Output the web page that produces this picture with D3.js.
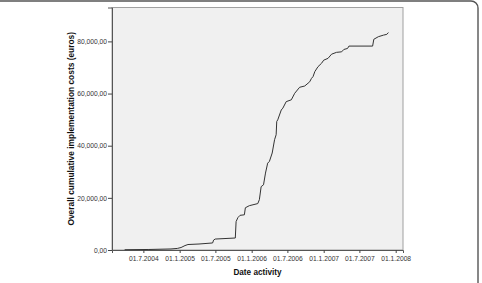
<!DOCTYPE html>
<html>
<head>
<meta charset="utf-8">
<script src="https://cdn.jsdelivr.net/npm/d3@7"></script>
<style>
  body { margin: 0; background: #fff; }
  svg { display: block; font-family: "Liberation Sans", Arial, sans-serif; }
</style>
</head>
<body>
<svg id="chart" width="482" height="283"></svg>
<script>
// cumulative costs
const dates = [
  "2004-03-28", "2004-07-29", "2004-11-18", "2004-12-20", "2005-01-08", "2005-01-28",
  "2005-02-12", "2005-04-09", "2005-06-17", "2005-06-22", "2005-06-30", "2005-10-10",
  "2005-10-14", "2005-10-23", "2005-11-03", "2005-11-25", "2005-11-30", "2005-12-20",
  "2006-02-01", "2006-02-09", "2006-02-18", "2006-03-02", "2006-03-12", "2006-03-23",
  "2006-04-01", "2006-04-15", "2006-04-27", "2006-05-05", "2006-05-08", "2006-05-13",
  "2006-05-31", "2006-06-08", "2006-06-25", "2006-07-21", "2006-08-07", "2006-09-01",
  "2006-09-27", "2006-10-22", "2006-10-31", "2006-11-08", "2006-11-17", "2006-12-03",
  "2006-12-21", "2007-01-01", "2007-01-23", "2007-02-10", "2007-03-07", "2007-04-02",
  "2007-04-13", "2007-05-02", "2007-05-09", "2007-09-06", "2007-09-12", "2007-10-05",
  "2007-10-31", "2007-11-17", "2007-11-25"
];
const costs = [
  100, 200, 400, 600, 950, 1700,
  2100, 2300, 2700, 3800, 4200, 4600,
  10900, 12400, 13300, 13500, 16200, 17000,
  17800, 19300, 24300, 25000, 29500, 33300,
  34000, 37200, 42300, 44200, 49300, 49900,
  53700, 54400, 56900, 57600, 60100, 62400,
  62900, 64500, 65800, 66500, 68400, 70300,
  71600, 72800, 73500, 75100, 75800, 76000,
  76900, 77300, 78200, 78200, 80800, 81800,
  82400, 82700, 83400
];
const yTicks = [0, 20000, 40000, 60000, 80000];
const xTicks = ["2004-07-01", "2005-01-01", "2005-07-01", "2006-01-01",
                "2006-07-01", "2007-01-01", "2007-07-01", "2008-01-01"];

const parse = d3.timeParse("%Y-%m-%d");
const data = dates.map((d, i) => ({ date: parse(d), value: costs[i] }));

const svg = d3.select("#chart");
const margin = { top: 7.5, right: 79, bottom: 33, left: 112 };
const width = 482 - margin.left - margin.right;
const height = 283 - margin.top - margin.bottom;

// outer frame of the figure
svg.append("rect")
  .attr("x", -20).attr("y", 1)
  .attr("width", 498).attr("height", 320)
  .attr("rx", 7)
  .attr("fill", "none")
  .attr("stroke", "#555")
  .attr("stroke-width", 1.4);

const g = svg.append("g").attr("transform", `translate(${margin.left},${margin.top})`);

const x = d3.scaleTime()
  .domain([parse("2004-01-24"), parse("2008-02-07")])
  .range([0, width]);
const y = d3.scaleLinear().domain([0, 93000]).range([height, 0]);

g.append("rect")
  .attr("width", width).attr("height", height)
  .attr("fill", "#f0f0f0")
  .attr("stroke", "#a0a0a0")
  .attr("stroke-width", 1);

const loc = d3.formatLocale({ decimal: ",", thousands: ",", grouping: [3], currency: ["", ""] });
const yFmt = loc.format(",.2f");

g.append("g")
  .call(d3.axisLeft(y).tickValues(yTicks).tickSize(4).tickPadding(1).tickFormat(yFmt))
  .call(a => {
    a.select(".domain").attr("stroke", "#555");
    a.selectAll(".tick line").attr("stroke", "#444");
    a.selectAll(".tick text").attr("fill", "#333").style("font-size", "6.7px");
  });

g.append("g")
  .attr("transform", `translate(0,${height})`)
  .call(d3.axisBottom(x).tickValues(xTicks.map(parse)).tickSize(3).tickPadding(3)
    .tickFormat(d3.timeFormat("%d.%-m.%Y")))
  .call(a => {
    a.select(".domain").attr("stroke", "#555");
    a.selectAll(".tick line").attr("stroke", "#444");
    a.selectAll(".tick text").attr("fill", "#333").style("font-size", "6.7px");
  });

g.append("path")
  .datum(data)
  .attr("fill", "none")
  .attr("stroke", "#333")
  .attr("stroke-width", 1)
  .attr("d", d3.line().x(d => x(d.date)).y(d => y(d.value)));

svg.append("text")
  .attr("transform", `translate(74,${margin.top + height / 2}) rotate(-90)`)
  .attr("text-anchor", "middle")
  .attr("fill", "#111")
  .style("font-size", "8.4px")
  .style("font-weight", "bold")
  .text("Overall cumulative implementation costs (euros)");

svg.append("text")
  .attr("x", margin.left + width / 2)
  .attr("y", 275)
  .attr("text-anchor", "middle")
  .attr("fill", "#111")
  .style("font-size", "8.2px")
  .style("font-weight", "bold")
  .text("Date activity");
</script>
</body>
</html>
